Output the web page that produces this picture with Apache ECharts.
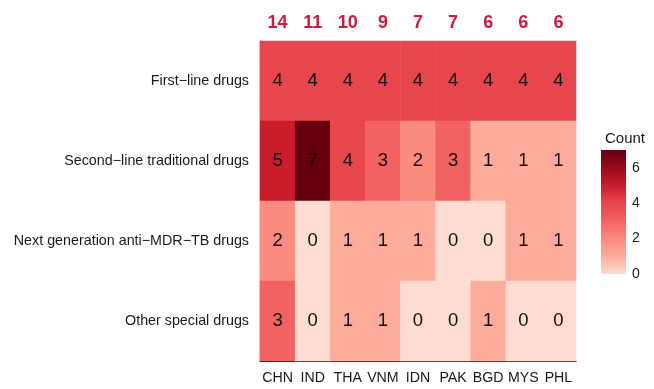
<!DOCTYPE html>
<html>
<head>
<meta charset="utf-8">
<script src="https://cdn.jsdelivr.net/npm/echarts@6/dist/echarts.min.js"></script>
<style>
  html, body { margin: 0; padding: 0; background: #fff; }
  #chart { width: 654px; height: 389px; }
</style>
</head>
<body>
<div id="chart"></div>
<script>
// Countries along the x axis
const countries = ['CHN', 'IND', 'THA', 'VNM', 'IDN', 'PAK', 'BGD', 'MYS', 'PHL'];
// Drug classes, top to bottom
const drugClasses = [
  'First\u2212line drugs',
  'Second\u2212line traditional drugs',
  'Next generation anti\u2212MDR\u2212TB drugs',
  'Other special drugs'
];
// Counts per drug class (rows), one value per country
const firstLine    = [4, 4, 4, 4, 4, 4, 4, 4, 4];
const secondLine   = [5, 7, 4, 3, 2, 3, 1, 1, 1];
const nextGen      = [2, 0, 1, 1, 1, 0, 0, 1, 1];
const otherSpecial = [3, 0, 1, 1, 0, 0, 1, 0, 0];
const rows = [firstLine, secondLine, nextGen, otherSpecial];
// Legend scale
const countMin = 0;
const countMax = 7;
const legendTicks = [0, 2, 4, 6];
// Colour ramp, one stop per integer count 0..7
const ramp = ['#fedcd1', '#fdab9b', '#fb8a7f', '#f26262', '#e8464d', '#c91d2c', '#980a19', '#67000d'];

// Column totals shown above the heatmap
const totals = countries.map((_, c) => rows.reduce((s, r) => s + r[c], 0));

const cells = [];
rows.forEach((r, ri) => r.forEach((v, ci) => cells.push([ci, ri, v])));

const font = 'Liberation Sans, Arial, sans-serif';
const chart = echarts.init(document.getElementById('chart'), null, { renderer: 'canvas' });

// gradient for the legend bar (bottom = 0, top = max)
const gradStops = ramp.map((c, i) => ({ offset: 1 - i / (ramp.length - 1), color: c }));

chart.setOption({
  animation: false,
  textStyle: { fontFamily: font },
  grid: [
    { left: 260, right: 78, top: 41, bottom: 28, containLabel: false },
    { left: 601, top: 150, width: 25, height: 124 }
  ],
  xAxis: [
    {
      type: 'category', data: countries, gridIndex: 0, position: 'bottom',
      axisLine: { lineStyle: { color: '#1a1a1a', width: 1.2 } },
      axisTick: { alignWithLabel: true, length: 4, lineStyle: { color: '#333' } },
      axisLabel: { color: '#1a1a1a', fontSize: 14.2, margin: 10, interval: 0, fontFamily: font },
      splitLine: { show: false }
    },
    {
      type: 'category', data: totals, gridIndex: 0, position: 'top',
      axisLine: { show: false }, axisTick: { show: false },
      axisLabel: { color: '#d6163f', fontSize: 18, fontWeight: 'bold', margin: 9, interval: 0, fontFamily: font }
    },
    {
      type: 'category', data: ['c'], gridIndex: 1, show: false
    }
  ],
  yAxis: [
    {
      type: 'category', data: drugClasses, gridIndex: 0, inverse: true,
      axisLine: { lineStyle: { color: '#1a1a1a', width: 1.2 } },
      axisTick: { show: false },
      axisLabel: { color: '#1a1a1a', fontSize: 14.3, margin: 11, interval: 0, fontFamily: font }
    },
    {
      type: 'value', gridIndex: 1, min: countMin, max: countMax, interval: 2, position: 'right',
      axisLine: { show: false },
      axisTick: { show: true, inside: true, length: 5, lineStyle: { color: '#fff', width: 1 } },
      axisLabel: {
        color: '#1a1a1a', fontSize: 14, margin: 6, fontFamily: font,
        formatter: v => (legendTicks.indexOf(v) >= 0 ? String(v) : '')
      },
      splitLine: { show: false }
    },
    {
      type: 'value', gridIndex: 1, min: countMin, max: countMax, interval: 2, position: 'left',
      axisLine: { show: false },
      axisTick: { show: true, inside: true, length: 5, lineStyle: { color: '#fff', width: 1 } },
      axisLabel: { show: false },
      splitLine: { show: false }
    }
  ],
  visualMap: {
    show: false, type: 'continuous', min: countMin, max: countMax, seriesIndex: 0,
    inRange: { color: ramp }
  },
  title: {
    text: 'Count', left: 600, top: 126,
    textStyle: { fontSize: 15, fontWeight: 'normal', color: '#1a1a1a', fontFamily: font }
  },
  series: [
    {
      type: 'heatmap', xAxisIndex: 0, yAxisIndex: 0, data: cells,
      label: { show: true, color: '#111', fontSize: 18.5, fontFamily: font, formatter: p => p.value[2] },
      itemStyle: { borderWidth: 0 },
      emphasis: { disabled: true }
    },
    {
      type: 'bar', xAxisIndex: 2, yAxisIndex: 1, data: [countMax], barWidth: '100%',
      itemStyle: { color: new echarts.graphic.LinearGradient(0, 0, 0, 1, gradStops) },
      z: 1, silent: true
    }
  ]
});
</script>
</body>
</html>
